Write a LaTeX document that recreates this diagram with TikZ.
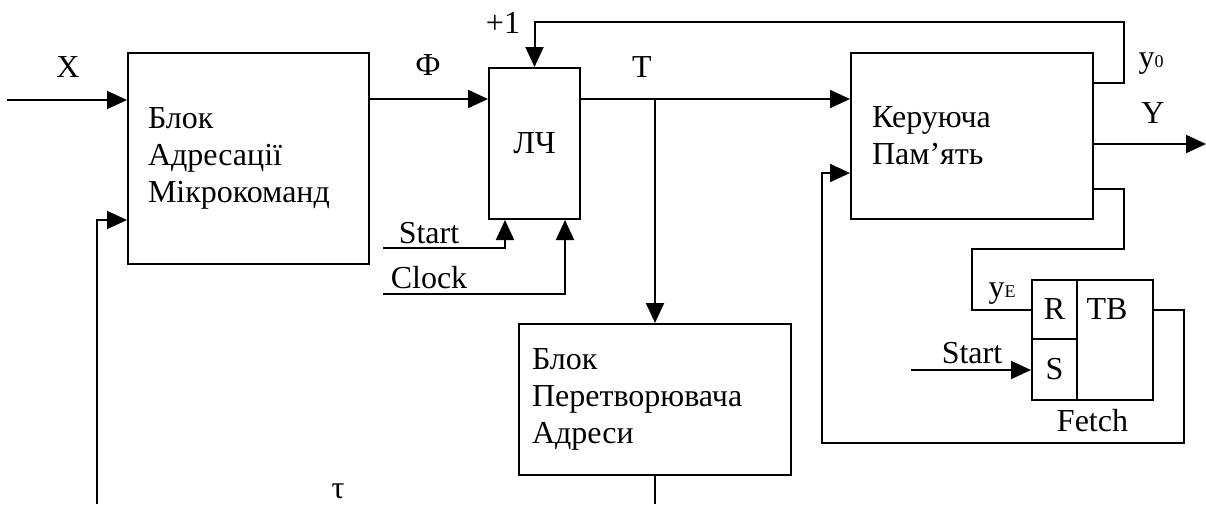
\documentclass[tikz,border=0pt]{standalone}
\usepackage{fontspec}
\setmainfont{Liberation Serif}
\usetikzlibrary{arrows.meta,positioning}

\begin{document}
\begin{tikzpicture}[
  x=1pt, y=-1pt,
  line width=2pt,
  font=\fontsize{32}{37}\selectfont,
  blok/.style={draw, align=left, inner ysep=0pt},
  strilka/.style={-{Triangle[length=20pt,width=18pt]}},
  mitka/.style={anchor=base},
  indeks/.style={font=\fontsize{18}{18}\selectfont}
]
\useasboundingbox (0,0) rectangle (1206,504);
% blocks
\node[blok, minimum width=241pt, minimum height=211pt, text width=201pt, inner xsep=20pt] (bam) at (248.5,158.5) {Блок\\Адресації\\Мікрокоманд};
\node[draw, minimum width=91pt, minimum height=151pt] (lch) at (534.5,143.5) {ЛЧ};
\node[blok, minimum width=242pt, minimum height=166pt, text width=200pt, inner xsep=21pt] (kp) at (972,136) {Керуюча\\Пам’ять};
\node[blok, minimum width=272pt, minimum height=151pt, text width=246pt, inner xsep=13pt] (bpa) at (655,399.5) {Блок\\Перетворювача\\Адреси};
% trigger
\node[draw, minimum width=121pt, minimum height=120pt] (trig) at (1092.5,340) {};
\node[draw, minimum width=45pt, minimum height=59pt, inner sep=0pt] (r) at (1054.5,309.5) {R};
\node[draw, minimum width=45pt, minimum height=61pt, inner sep=0pt] (s) at (1054.5,369.5) {S};
\node (tb) at (1107,309.5) {TB};
\node[below=4pt of trig] (fetch) {Fetch};
% labels
\node[mitka] (lx) at (68,77) {X};
\node[mitka] (lphi) at (428,75) {Ф};
\node[mitka] (lp1) at (503,33) {+1};
\node[mitka] (lt) at (642,77) {T};
\node[mitka] (lstart) at (429,243) {Start};
\node[mitka] (lclock) at (429,288) {Clock};
\node[mitka] (ly0) at (1151,67) {y{\fontsize{18}{18}\selectfont 0}};
\node[mitka] (ly) at (1153,123) {Y};
\node[mitka] (lye) at (1002,297) {y{\fontsize{18}{18}\selectfont E}};
\node[mitka] (lstart2) at (972,363) {Start};
\node[mitka] (ltau) at (338,498) {τ};
% connections
\coordinate (xin) at (7,100);
\draw[strilka] (xin) -- (xin -| bam.west);
\coordinate (tau) at (97,504);
\draw[strilka] (tau) |- (bam.west |- 0,220);
\draw[strilka] (bam.east |- 0,99) -- (lch.west |- 0,99);
\draw[strilka] (kp.east |- 0,83) -- ++(30,0) |- ([yshift=45pt]lch.north) -- (lch.north);
\coordinate (st1) at (383,248);
\draw[strilka] (st1) -| ([xshift=-29.5pt]lch.south);
\coordinate (clk) at (383,294);
\draw[strilka] (clk) -| ([xshift=30.5pt]lch.south);
\draw[strilka] (lch.east |- 0,99) -- (kp.west |- 0,99);
\draw[strilka] (bpa.north |- 0,99) -- (bpa.north);
\coordinate (bpaout) at (655,504);
\draw (bpa.south) -- (bpaout);
\coordinate (yout) at (1206,144);
\draw[strilka] (kp.east |- yout) -- (yout);
\draw (kp.east |- 0,189) -- ++(30,0) |- (972,249) |- (r.west);
\draw[strilka] (trig.east |- r.west) -- ++(30,0) |- (822,443) |- (kp.west |- 0,173);
\coordinate (st2) at (911,370);
\draw[strilka] (st2) -- (st2 -| s.west);
\end{tikzpicture}
\end{document}
